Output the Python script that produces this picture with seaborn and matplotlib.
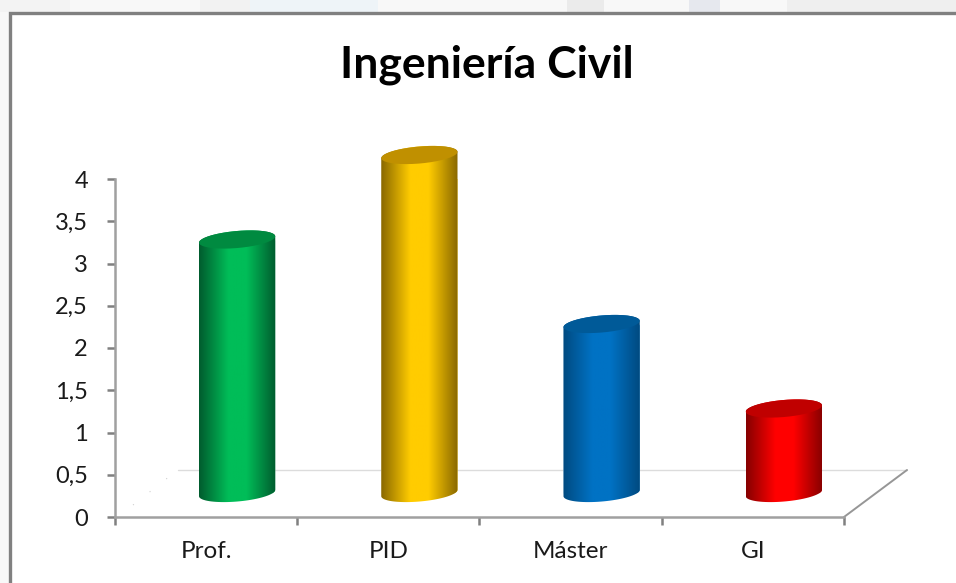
import numpy as np
import pandas as pd
import matplotlib
matplotlib.use('Agg')
import matplotlib.pyplot as plt
import seaborn as sns
from matplotlib.colors import LinearSegmentedColormap
from matplotlib.lines import Line2D
from matplotlib.patches import PathPatch, Rectangle
from matplotlib.path import Path
from matplotlib.transforms import Affine2D, IdentityTransform

categories = ['Prof.', 'PID', 'Máster', 'GI']
values = [3, 4, 2, 1]
y_ticks = [0, 0.5, 1, 1.5, 2, 2.5, 3, 3.5, 4]
y_tick_labels = ['0', '0,5', '1', '1,5', '2', '2,5', '3', '3,5', '4']
side_colors = ['#005c2e', '#8a6800', '#004a80', '#860000']
mid_colors = ['#00bd58', '#ffcc00', '#0072c4', '#ff0000']
top_colors = ['#008a40', '#c09000', '#005a98', '#c00000']

W, H = 956, 583
sns.set_theme(style='white')
plt.rcParams['font.family'] = ['Lato', 'DejaVu Sans']

fig = plt.figure(figsize=(W / 100, H / 100), dpi=100)
fig.patch.set_facecolor('#f8f8f8')

# pale remains of the photo behind the panel
for px0, px1, col in [(0, 70, '#f3f3f3'), (200, 250, '#f2f2f2'), (250, 378, '#eef4f8'),
                      (567, 604, '#ebebeb'), (689, 720, '#e6e8ee'), (787, 956, '#efefef')]:
    fig.add_artist(Rectangle((px0 / W, 1 - 12 / H), (px1 - px0) / W, 12 / H, transform=fig.transFigure,
                             facecolor=col, edgecolor='none', zorder=-3))

# white panel with the grey frame
fig.add_artist(Rectangle((9.5 / W, -0.1), 1, 1.1 - 13.5 / H, transform=fig.transFigure,
                         facecolor='white', edgecolor='#808080', linewidth=2.4, zorder=-2))

# axes box in pixels: x 115-844, y 179-517
ax = fig.add_axes([115 / W, 1 - 517 / H, 729 / W, 338 / H])
ax.patch.set_alpha(0)

df = pd.DataFrame({'cat': categories, 'val': values})
sns.barplot(data=df, x='cat', y='val', ax=ax, width=0.42, color='white', saturation=1)
ax.set_xlim(-0.5, 3.5)
ax.set_ylim(0, 4)
ax.set_xlabel('')
ax.set_ylabel('')

for s in ['top', 'right']:
    ax.spines[s].set_visible(False)
for s in ['left', 'bottom']:
    ax.spines[s].set_color('#a0a0a0')
    ax.spines[s].set_linewidth(1.8)

ax.set_yticks(y_ticks)
ax.set_yticklabels(y_tick_labels, fontsize=17, color='#1a1a1a')
ax.set_xticks([-0.5, 0.5, 1.5, 2.5, 3.5])
ax.set_xticklabels([])
ax.tick_params(axis='y', left=True, length=6, width=1.8, color='#808080', pad=13.5)
ax.tick_params(axis='x', bottom=True, length=6, width=1.8, color='#808080')
for i, c in enumerate(categories):
    ax.annotate(c, (i, 0), xytext=(0, -35), textcoords='offset pixels', ha='center',
                va='center', fontsize=17.5, color='#1a1a1a')

fig.text(487 / W, 1 - 65 / H, 'Ingeniería Civil', ha='center', va='center',
         fontsize=32, fontweight='bold', color='black')

# floor of the 3D box, behind the axes
dx, dy = 63, 47
x0, y0 = ax.transData.transform((-0.5, 0))
x1, y1 = ax.transData.transform((3.5, 0))
fig.add_artist(Line2D([x0 + dx, x1 + dx], [y0 + dy, y1 + dy], transform=IdentityTransform(),
                      color='#dcdcdc', lw=1, zorder=-1))
fig.add_artist(Line2D([x1, x1 + dx], [y1, y1 + dy], transform=IdentityTransform(),
                      color='#969696', lw=1.4, zorder=-1))
fig.add_artist(Line2D([x0 + 18, x0 + dx - 8], [y0 + 12, y0 + dy - 6], transform=IdentityTransform(),
                      color='#d0d0d0', lw=0.8, ls=(0, (1, 18)), zorder=-1))

# cylinders: take each bar from seaborn, move it back by the 3D offset
shift = Affine2D().translate(31, 24)
tilt = np.radians(5)

over = fig.add_axes([0, 0, 1, 1], label='cylinders')
over.axis('off')
over.patch.set_alpha(0)


def ellipse_pts(cx, cy, a, b, t0, t1, n=40):
    t = np.linspace(t0, t1, n)
    ex, ey = a * np.cos(t), b * np.sin(t)
    return np.c_[cx + ex * np.cos(tilt) - ey * np.sin(tilt),
                 cy + ex * np.sin(tilt) + ey * np.cos(tilt)]


for i, bar in enumerate(ax.patches):
    bl = shift.transform(ax.transData.transform((bar.get_x(), 0)))
    tr = shift.transform(ax.transData.transform((bar.get_x() + bar.get_width(), bar.get_height())))
    a = (tr[0] - bl[0]) / 2
    cx = (tr[0] + bl[0]) / 2
    b = 8.5

    lower = ellipse_pts(cx, bl[1], a, b, np.pi, 2 * np.pi)
    upper = ellipse_pts(cx, tr[1], a, b, 0, np.pi)
    body = Path(np.vstack([lower, upper, lower[:1]]), closed=True)

    bar.set_transform(ax.transData + shift)
    bar.set_facecolor(mid_colors[i])
    bar.set_clip_path(body, IdentityTransform())

    # shading: dark at both edges, brightest a little left of the middle
    cmap = LinearSegmentedColormap.from_list('c', [(0, side_colors[i]), (0.38, mid_colors[i]),
                                                   (0.62, mid_colors[i]), (1, side_colors[i])])
    grad = np.linspace(0, 1, 128)[None, :]
    image = over.imshow(grad, cmap=cmap, extent=(cx - a, cx + a, bl[1] - 12, tr[1] + 12),
                        aspect='auto', zorder=3)
    image.set_clip_path(body, IdentityTransform())

    top = Path(ellipse_pts(cx, tr[1], a, b, 0, 2 * np.pi), closed=True)
    over.add_patch(PathPatch(top, facecolor=top_colors[i], edgecolor='none',
                             transform=IdentityTransform(), zorder=4))

over.set_xlim(0, W)
over.set_ylim(0, H)

fig.savefig('out.png', dpi=100, facecolor=fig.get_facecolor())
